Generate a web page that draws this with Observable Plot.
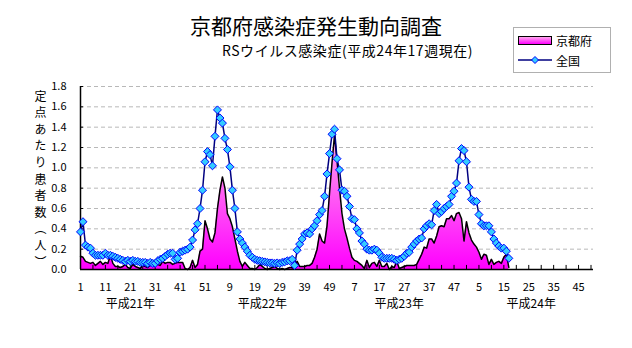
<!DOCTYPE html>
<html><head><meta charset="utf-8">
<script src="https://cdn.jsdelivr.net/npm/d3@7"></script>
<script src="https://cdn.jsdelivr.net/npm/@observablehq/plot@0.6"></script>
<style>
body{margin:0;background:#fff;}
#wrap{position:relative;width:632px;height:348px;font-family:"Noto Sans CJK JP",sans-serif;color:#000;overflow:hidden;}
#chart{position:absolute;left:0;top:0;}
#title{position:absolute;left:0;width:632px;top:11px;text-align:center;font-size:21px;line-height:28px;}
#subtitle{position:absolute;left:222px;top:41px;font-size:14px;letter-spacing:0.55px;line-height:18px;white-space:nowrap;}
#ytitle{position:absolute;left:34px;top:90px;writing-mode:vertical-rl;font-size:12px;letter-spacing:4.6px;line-height:12px;}
#legend{position:absolute;left:513px;top:27px;width:96px;height:44px;border:1px solid #b0b0b0;background:#fff;font-size:12px;}
.li{position:absolute;left:4px;height:16px;display:flex;align-items:center;}
.li span{margin-left:4px;}
#sw{width:32px;height:7px;border:1px solid #000;background:linear-gradient(#ffa8ec,#ff00ff);}
</style></head><body>
<div id="wrap">
<div id="chart"></div>
<div id="title">京都府感染症発生動向調査</div>
<div id="subtitle">RSウイルス感染症(平成24年17週現在)</div>
<div id="ytitle">定点あたり患者数（人）</div>
<div id="legend">
  <div class="li" style="top:4px"><div id="sw"></div><span>京都府</span></div>
  <div class="li" style="top:24px"><svg width="34" height="10"><line x1="0" y1="5" x2="34" y2="5" stroke="#000080" stroke-width="1.5"/><path d="M17,1.5L20.5,5L17,8.5L13.5,5Z" fill="#33ccff" stroke="#0000ff"/></svg><span>全国</span></div>
</div>
</div>
<script>
// weekly series, index 1 = 平成21年 第1週 (52 weeks per year)
const yearNames = ["平成21年", "平成22年", "平成23年", "平成24年"];
const yearLabelWeeks = [21, 74, 129, 182];
const weeksPerYear = 52;
const national = [
0.37,0.47,0.24,0.22,0.21,0.16,0.14,0.14,0.14,0.14,
0.16,0.14,0.14,0.13,0.12,0.11,0.10,0.09,0.08,0.09,
0.08,0.09,0.08,0.08,0.07,0.07,0.07,0.06,0.07,0.06,
0.06,0.085,0.10,0.11,0.13,0.15,0.16,0.16,0.10,0.11,
0.17,0.18,0.19,0.20,0.22,0.29,0.39,0.45,0.60,0.78,
1.06,1.16,1.13,1.02,1.31,1.57,1.49,1.44,1.29,1.18,
1.01,0.78,0.60,0.37,0.30,0.26,0.22,0.18,0.14,0.12,
0.10,0.09,0.085,0.08,0.075,0.07,0.065,0.065,0.06,0.065,
0.06,0.07,0.075,0.085,0.085,0.10,0.04,0.19,0.25,0.30,
0.35,0.36,0.35,0.40,0.43,0.48,0.54,0.58,0.72,0.94,
1.14,1.33,1.38,1.09,0.98,0.78,0.77,0.72,0.62,0.50,
0.49,0.40,0.36,0.28,0.25,0.20,0.19,0.19,0.20,0.19,
0.16,0.12,0.11,0.11,0.11,0.11,0.10,0.09,0.10,0.11,
0.13,0.16,0.17,0.22,0.25,0.28,0.30,0.31,0.40,0.43,
0.45,0.44,0.58,0.64,0.55,0.57,0.60,0.62,0.64,0.72,
0.77,0.85,1.07,1.19,1.17,1.06,0.81,0.69,0.67,0.67,
0.54,0.45,0.43,0.43,0.43,0.37,0.30,0.26,0.23,0.21,
0.21,0.18,0.11];
const kyoto = [
0.13,0.12,0.08,0.07,0.06,0.07,0.04,0.06,0.08,0.05,
0.07,0.06,0.14,0.06,0.03,0.03,0.02,0.03,0.05,0.02,
0.01,0.05,0.03,0.02,0.01,0.04,0.03,0.02,0.04,0.06,
0.05,0.05,0.04,0.08,0.06,0.07,0.07,0.05,0.06,0.07,
0.07,0.07,0.01,0.00,0.02,0.09,0.02,0.05,0.18,0.20,
0.48,0.40,0.30,0.27,0.36,0.60,0.78,0.91,0.80,0.55,
0.50,0.42,0.30,0.18,0.08,0.03,0.07,0.04,0.01,0.01,
0.00,0.02,0.05,0.03,0.01,0.00,0.01,0.02,0.03,0.01,
0.00,0.01,0.00,0.01,0.02,0.02,0.03,0.08,0.03,0.03,
0.03,0.04,0.04,0.06,0.12,0.20,0.35,0.28,0.26,0.43,
0.75,1.05,1.32,1.07,0.80,0.55,0.40,0.31,0.21,0.12,
0.09,0.08,0.06,0.04,0.01,0.09,0.02,0.06,0.07,0.03,
0.09,0.03,0.03,0.06,0.00,0.03,0.02,0.08,0.01,0.02,
0.03,0.04,0.04,0.04,0.04,0.05,0.10,0.15,0.22,0.21,
0.30,0.30,0.26,0.33,0.42,0.43,0.42,0.50,0.50,0.53,
0.48,0.55,0.56,0.50,0.28,0.47,0.36,0.29,0.25,0.22,
0.17,0.10,0.15,0.14,0.05,0.10,0.05,0.07,0.08,0.06,
0.12,0.15,0.02];
const yTicks = [0,0.2,0.4,0.6,0.8,1.0,1.2,1.4,1.6,1.8];
const lastIndex = 207;

const nat = national.map((v, i) => ({i: i + 1, v}));
const kyo = kyoto.map((v, i) => ({i: i + 1, v}));
const minorTicks = d3.range(1, lastIndex, 5);
const labelTicks = d3.range(1, lastIndex, 10);
const weekOf = i => ((i - 1) % weeksPerYear) + 1;
const years = yearNames.map((n, k) => ({n, w: yearLabelWeeks[k]}));

const plot = Plot.plot({
  width: 632, height: 348,
  marginLeft: 80, marginRight: 39, marginTop: 86, marginBottom: 79,
  style: {fontFamily: '"Noto Sans CJK JP", sans-serif', fontSize: "11px", background: "transparent", overflow: "visible"},
  x: {type: "linear", domain: [1, lastIndex], label: null},
  y: {domain: [0, 1.8], label: null},
  marks: [
    Plot.ruleY(yTicks.slice(1), {stroke: "#b8b8b8", strokeDasharray: "4,3", strokeWidth: 1}),
    Plot.areaY(kyo, {x: "i", y: "v", fill: "url(#kgrad)", curve: "linear"}),
    Plot.lineY(kyo, {x: "i", y: "v", stroke: "#000", strokeWidth: 1.5}),
    Plot.ruleX([1], {y1: 0, y2: 1.8, stroke: "#000", strokeWidth: 1.5}),
    Plot.ruleY([0], {x1: 1, x2: lastIndex, stroke: "#000", strokeWidth: 1.5}),
    Plot.ruleX(minorTicks, {y1: 0, y2: 0.04, stroke: "#000"}),
    Plot.ruleY(yTicks, {x1: 1, x2: 2.2, stroke: "#000"}),
    Plot.lineY(nat, {x: "i", y: "v", stroke: "#000080", strokeWidth: 1.5}),
    Plot.dot(nat, {x: "i", y: "v", symbol: "diamond2", r: 3.6, fill: "#33ccff", stroke: "#0000ff", strokeWidth: 1}),
    Plot.axisY({ticks: yTicks, tickFormat: d3.format(".1f"), tickSize: 0, tickPadding: 14, fontSize: 11, label: null}),
    Plot.axisX({ticks: labelTicks, tickFormat: weekOf, tickSize: 0, tickPadding: 14, fontSize: 11, label: null}),
    Plot.text(years, {x: "w", text: "n", frameAnchor: "bottom", dy: 38, fontSize: 12})
  ]
});
const defs = d3.select(plot).insert("defs", ":first-child");
const g = defs.append("linearGradient").attr("id", "kgrad").attr("x1", 0).attr("y1", 0).attr("x2", 0).attr("y2", 1);
g.append("stop").attr("offset", "0%").attr("stop-color", "#ffa8ec");
g.append("stop").attr("offset", "100%").attr("stop-color", "#ff00ff");
document.getElementById("chart").appendChild(plot);
</script>
</body></html>
